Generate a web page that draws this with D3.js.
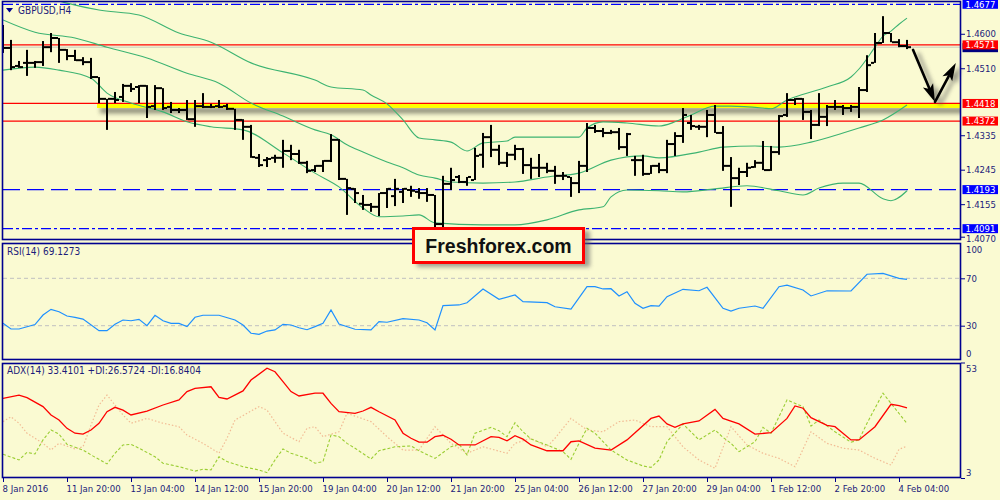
<!DOCTYPE html>
<html><head><meta charset="utf-8">
<script src="https://cdn.jsdelivr.net/npm/d3@7/dist/d3.min.js"></script>
<style>
html,body{margin:0;padding:0;background:#fafad2;}
svg{display:block;}
</style></head><body>
<svg id="chart" width="1000" height="500"></svg>
<script>
// ---------------- DATA ----------------
const symbolTitle = "GBPUSD,H4";
const rsiTitle = "RSI(14) 69.1273";
const adxTitle = "ADX(14) 33.4101 +DI:26.5724 -DI:16.8404";
const brandText = "Freshforex.com";

const dateTickBars = [0,8,16,24,32,40,48,56,64,72,80,88,96,104,112];
const dateLabels = ["8 Jan 2016","11 Jan 20:00","13 Jan 04:00","14 Jan 12:00","15 Jan 20:00","19 Jan 04:00","20 Jan 12:00","21 Jan 20:00","25 Jan 04:00","26 Jan 12:00","27 Jan 20:00","29 Jan 04:00","1 Feb 12:00","2 Feb 20:00","4 Feb 04:00"];

const barOpen = [1.4597,1.4563,1.4516,1.4524,1.4524,1.4526,1.4565,1.4589,1.4558,1.4542,
 1.4531,1.4526,1.4487,1.4430,1.4430,1.4435,1.4464,1.4461,1.4464,1.4411,
 1.4458,1.4409,1.4401,1.4401,1.4377,1.4411,1.4409,1.4411,1.4411,1.4404,
 1.4375,1.4357,1.4276,1.4270,1.4276,1.4276,1.4294,1.4286,1.4263,1.4244,
 1.4255,1.4268,1.4323,1.4221,1.4195,1.4156,1.4153,1.4148,1.4184,1.4176,
 1.4187,1.4192,1.4187,1.4184,1.4179,1.4103,1.4208,1.4226,1.4213,1.4218,
 1.4284,1.4330,1.4297,1.4263,1.4284,1.4299,1.4257,1.4250,1.4250,1.4242,
 1.4229,1.4226,1.4210,1.4255,1.4354,1.4346,1.4341,1.4343,1.4304,1.4270,
 1.4270,1.4234,1.4255,1.4244,1.4312,1.4333,1.4367,1.4357,1.4357,1.4388,
 1.4341,1.4255,1.4223,1.4239,1.4252,1.4263,1.4244,1.4291,1.4388,1.4427,
 1.4430,1.4396,1.4362,1.4383,1.4409,1.4409,1.4406,1.4409,1.4453,1.4524,
 1.4576,1.4602,1.4578,1.4568];
const barHigh = [1.4623,1.4584,1.4529,1.4558,1.4529,1.4581,1.4602,1.4589,1.4560,1.4558,
 1.4539,1.4537,1.4487,1.4430,1.4448,1.4469,1.4471,1.4466,1.4466,1.4466,
 1.4458,1.4422,1.4406,1.4427,1.4427,1.4445,1.4417,1.4427,1.4417,1.4404,
 1.4377,1.4362,1.4286,1.4278,1.4284,1.4323,1.4310,1.4297,1.4268,1.4257,
 1.4270,1.4338,1.4325,1.4221,1.4197,1.4179,1.4158,1.4184,1.4197,1.4221,
 1.4197,1.4203,1.4197,1.4197,1.4179,1.4229,1.4250,1.4231,1.4226,1.4302,
 1.4341,1.4362,1.4310,1.4291,1.4310,1.4302,1.4276,1.4286,1.4263,1.4255,
 1.4239,1.4226,1.4268,1.4367,1.4362,1.4354,1.4349,1.4354,1.4341,1.4281,
 1.4284,1.4257,1.4263,1.4323,1.4343,1.4406,1.4388,1.4362,1.4401,1.4414,
 1.4359,1.4278,1.4250,1.4263,1.4270,1.4320,1.4307,1.4388,1.4445,1.4432,
 1.4432,1.4401,1.4445,1.4414,1.4427,1.4414,1.4414,1.4461,1.4544,1.4602,
 1.4646,1.4602,1.4586,1.4584];
const barLow = [1.4550,1.4505,1.4511,1.4490,1.4511,1.4516,1.4552,1.4524,1.4531,1.4529,
 1.4518,1.4482,1.4419,1.4349,1.4419,1.4422,1.4448,1.4419,1.4380,1.4401,
 1.4401,1.4393,1.4393,1.4375,1.4357,1.4406,1.4406,1.4406,1.4401,1.4349,
 1.4323,1.4276,1.4252,1.4252,1.4263,1.4250,1.4270,1.4260,1.4236,1.4239,
 1.4239,1.4265,1.4218,1.4127,1.4158,1.4140,1.4135,1.4124,1.4145,1.4150,
 1.4158,1.4174,1.4169,1.4161,1.4095,1.4095,1.4192,1.4210,1.4203,1.4218,
 1.4250,1.4278,1.4257,1.4252,1.4270,1.4234,1.4221,1.4226,1.4236,1.4208,
 1.4218,1.4174,1.4184,1.4239,1.4341,1.4330,1.4338,1.4297,1.4281,1.4229,
 1.4229,1.4234,1.4236,1.4236,1.4281,1.4315,1.4349,1.4349,1.4330,1.4341,
 1.4242,1.4148,1.4205,1.4226,1.4250,1.4244,1.4242,1.4284,1.4383,1.4414,
 1.4375,1.4325,1.4359,1.4359,1.4401,1.4388,1.4396,1.4380,1.4448,1.4524,
 1.4576,1.4578,1.4565,1.4560];
const barClose = [1.4563,1.4513,1.4513,1.4524,1.4526,1.4565,1.4589,1.4558,1.4542,1.4531,
 1.4526,1.4487,1.4430,1.4430,1.4427,1.4464,1.4456,1.4464,1.4409,1.4458,
 1.4406,1.4401,1.4401,1.4377,1.4411,1.4409,1.4409,1.4409,1.4404,1.4375,
 1.4357,1.4278,1.4257,1.4273,1.4276,1.4294,1.4286,1.4263,1.4242,1.4255,
 1.4268,1.4323,1.4221,1.4197,1.4184,1.4153,1.4148,1.4184,1.4195,1.4195,
 1.4195,1.4190,1.4184,1.4179,1.4103,1.4208,1.4218,1.4213,1.4226,1.4281,
 1.4330,1.4297,1.4263,1.4284,1.4299,1.4257,1.4250,1.4250,1.4242,1.4229,
 1.4229,1.4210,1.4255,1.4354,1.4346,1.4341,1.4343,1.4304,1.4338,1.4270,
 1.4234,1.4255,1.4244,1.4312,1.4333,1.4388,1.4359,1.4357,1.4388,1.4341,
 1.4255,1.4223,1.4239,1.4250,1.4263,1.4244,1.4291,1.4385,1.4427,1.4430,
 1.4396,1.4362,1.4383,1.4409,1.4409,1.4406,1.4409,1.4453,1.4518,1.4576,
 1.4602,1.4578,1.4568,1.4565];

// Bollinger bands, read at [bar, price]
const bbUpper = [[0,1.4735],[8,1.4680],[12,1.4662],[17,1.4649],[22,1.4602],[26,1.4578],[31,1.4524],[39,1.4479],[41,1.4461],[45,1.4453],[46,1.4440],[48,1.4417],[50,1.4375],[52,1.4328],[54,1.4323],[56,1.4317],[58,1.4294],[60,1.4315],[63,1.4320],[64,1.4330],[72,1.4330],[73,1.4354],[75,1.4370],[78,1.4367],[82,1.4359],[84,1.4370],[86,1.4388],[89,1.4411],[91,1.4411],[95,1.4406],[96,1.4404],[98,1.4427],[99,1.4435],[103,1.4461],[106,1.4487],[107,1.4508],[109,1.4565],[110,1.4594],[111,1.4607],[112,1.4625],[113,1.4641]];
const bbMiddle = [[0,1.4636],[4,1.4604],[9,1.4589],[13,1.4565],[18,1.4537],[23,1.4497],[27,1.4471],[31,1.4419],[35,1.4385],[39,1.4349],[41,1.4336],[43,1.4310],[45,1.4291],[48,1.4265],[50,1.4250],[52,1.4231],[54,1.4223],[56,1.4213],[60,1.4210],[64,1.4213],[68,1.4226],[72,1.4236],[76,1.4270],[80,1.4281],[82,1.4276],[87,1.4291],[90,1.4304],[94,1.4307],[97,1.4304],[101,1.4317],[105,1.4341],[107,1.4354],[110,1.4375],[113,1.4414]];
const bbLower = [[0,1.4505],[4,1.4513],[7,1.4505],[11,1.4484],[13,1.4445],[16,1.4419],[20,1.4396],[23,1.4370],[26,1.4357],[30,1.4349],[35,1.4289],[39,1.4236],[42,1.4200],[45,1.4145],[47,1.4122],[50,1.4124],[52,1.4127],[54,1.4106],[60,1.4101],[64,1.4101],[68,1.4114],[72,1.4140],[75,1.4148],[76,1.4174],[78,1.4192],[82,1.4190],[85,1.4187],[89,1.4195],[93,1.4203],[97,1.4190],[100,1.4179],[102,1.4197],[105,1.4210],[107,1.4210],[110,1.4169],[111,1.4164],[113,1.4190]];

// RSI(14), read at [bar, value]
const rsiPoints = [[0,32.0],[1,27.2],[2,27.2],[4,31.0],[5,39.0],[6,43.8],[7,41.8],[8,38.2],[9,37.0],[10,35.6],[12,25.8],[13,25.8],[14,31.2],[15,34.8],[16,34.2],[17,35.4],[18,30.0],[19,38.8],[20,34.2],[21,32.0],[22,32.0],[23,29.2],[24,37.1],[25,38.8],[27,38.8],[29,34.8],[30,30.6],[31,23.6],[32,22.7],[33,25.5],[34,26.4],[35,31.2],[36,30.6],[37,28.3],[38,26.6],[39,29.2],[40,32.0],[41,43.2],[42,31.4],[44,27.0],[46,26.4],[47,33.4],[48,32.9],[50,35.9],[52,34.8],[53,32.5],[54,26.4],[55,46.9],[57,47.5],[58,49.4],[60,61.0],[62,52.3],[64,55.9],[65,50.3],[68,49.4],[69,46.0],[71,44.1],[73,62.9],[74,62.9],[75,61.0],[76,61.2],[77,55.1],[78,58.7],[79,48.9],[80,44.7],[81,46.9],[82,46.6],[83,54.5],[85,60.7],[87,59.5],[88,62.4],[90,44.7],[91,42.4],[92,44.7],[94,46.6],[95,44.7],[97,62.9],[98,64.3],[100,60.1],[101,55.1],[103,59.5],[106,59.3],[108,73.4],[110,74.2],[112,70.0],[113,69.1]];
const rsiLevels = [70,30];
const rsiTicks = [100,70,30,0];

// ADX(14), read at [bar, value]
const adxPoints = [[0,37.5],[2,38.9],[3,37.8],[5,33.9],[6,30.3],[7,28.1],[8,24.5],[9,22.4],[10,22.0],[11,23.8],[12,26.7],[13,31.7],[14,33.6],[15,32.4],[16,30.3],[18,32.0],[20,34.6],[22,36.8],[23,40.4],[24,41.8],[26,42.5],[27,37.9],[28,37.2],[30,40.7],[31,45.4],[33,50.5],[34,49.0],[35,44.7],[36,40.4],[37,38.5],[39,39.7],[40,39.7],[41,35.3],[42,31.7],[44,31.0],[45,32.0],[46,33.6],[47,31.7],[49,28.1],[50,22.4],[51,20.2],[52,18.5],[53,18.5],[54,20.9],[55,21.5],[56,19.8],[57,17.3],[59,17.3],[61,20.9],[62,20.6],[63,19.1],[64,21.3],[65,19.8],[66,17.3],[68,14.8],[70,14.8],[71,18.7],[72,19.1],[74,15.9],[76,15.1],[78,19.5],[81,28.8],[82,29.8],[83,26.4],[84,24.9],[85,26.4],[87,27.7],[89,32.7],[90,28.8],[92,26.4],[94,22.0],[96,22.6],[98,28.8],[99,34.2],[100,33.2],[101,29.1],[103,25.8],[104,25.2],[106,19.5],[107,19.5],[109,25.2],[111,34.9],[112,34.3],[113,33.4]];
const plusDiPoints = [[0,13.3],[2,10.8],[3,14.1],[4,13.4],[5,19.5],[6,23.8],[7,22.0],[8,17.6],[10,15.1],[11,13.0],[13,9.1],[14,13.7],[15,17.3],[16,17.6],[17,15.9],[19,12.2],[20,9.4],[22,7.9],[24,6.0],[25,6.8],[26,6.5],[27,12.2],[28,10.1],[30,7.9],[32,6.5],[33,5.3],[34,10.8],[35,15.6],[36,13.7],[38,11.5],[39,9.4],[40,10.1],[41,21.6],[42,20.9],[43,18.0],[44,15.9],[46,11.2],[47,14.8],[49,16.5],[51,16.9],[52,14.8],[54,11.5],[56,16.5],[57,17.7],[58,13.0],[59,22.4],[61,24.9],[62,23.5],[63,20.9],[64,26.9],[65,23.0],[66,19.9],[68,17.3],[70,14.4],[71,11.1],[72,18.0],[73,24.5],[74,22.4],[76,15.1],[78,10.8],[80,8.2],[81,7.6],[82,10.8],[83,18.7],[85,26.4],[87,19.5],[89,23.8],[90,20.6],[91,18.0],[92,14.4],[94,18.7],[95,24.9],[96,22.4],[98,36.8],[100,33.9],[101,25.5],[102,28.1],[104,23.0],[106,18.5],[107,19.5],[108,26.7],[110,39.7],[111,35.3],[113,26.6]];
const minusDiPoints = [[0,27.4],[1,29.5],[2,26.7],[3,22.4],[5,18.0],[6,15.1],[7,18.0],[9,15.6],[10,16.5],[11,25.9],[12,34.6],[13,38.9],[14,34.6],[15,30.3],[16,26.7],[18,28.8],[20,26.7],[22,25.2],[23,21.6],[25,18.0],[26,15.9],[27,13.7],[28,20.2],[29,28.1],[32,33.9],[33,32.4],[34,27.4],[35,22.4],[37,18.7],[38,24.5],[39,25.2],[40,20.9],[42,23.0],[43,31.0],[46,27.4],[48,20.9],[50,15.1],[52,15.1],[54,25.2],[56,18.0],[58,13.7],[60,16.5],[63,13.7],[64,18.0],[66,20.2],[68,16.5],[69,20.2],[71,28.8],[73,23.8],[75,23.0],[77,27.4],[79,28.1],[81,25.2],[83,25.2],[85,16.5],[87,10.8],[89,7.2],[91,25.2],[93,17.3],[95,13.7],[97,11.5],[99,7.9],[101,23.0],[103,18.0],[105,15.9],[107,15.1],[109,11.5],[111,8.6],[112,15.4],[113,16.8]];
const adxTicks = [53,3];

// price axis and horizontal levels
const priceTicks = [1.4600,1.4510,1.4335,1.4245,1.4155,1.4070];
const levelPrices = [1.4677,1.4571,1.4418,1.4372,1.4193,1.4091];
const levelKinds  = ["dashdot","solid","zone","solid","dash","dashdot"];
const zoneStartBar = 11.75;
const bidPrice = 1.4565;
// forecast arrows: [bar, price]
const arrowPoints = [[113.75,1.4558],[116.5,1.4422],[119.1,1.4524]];

// ---------------- DRAW ----------------
const FONT = '"DejaVu Sans Condensed","DejaVu Sans",sans-serif';
const NAVY = "#000090", TXT = "#1c1c7a";
const svg = d3.select("#chart");
const defs = svg.append("defs");
svg.append("rect").attr("width",1000).attr("height",500).attr("fill","#fafad2");

const P = {l:3, r:960, mt:2, mb:239, rt:244, rb:359, at:364, ab:477};
const x  = d3.scaleLinear().domain([0,113]).range([3,907]);
const y  = d3.scaleLinear().domain([1.4070,1.4677]).range([236.7,4.3]);
const yr = d3.scaleLinear().domain([0,100]).range([361.25,242.75]);
const ya = d3.scaleLinear().domain([3,53]).range([478,362.5]);

function clip(id,t,b){defs.append("clipPath").attr("id",id).append("rect").attr("x",P.l).attr("y",t).attr("width",P.r-P.l).attr("height",b-t);}
clip("cm",P.mt,P.mb); clip("cr",P.rt,P.rb); clip("ca",P.at,P.ab);
const blur = defs.append("filter").attr("id","blur").attr("x","-30%").attr("y","-100%").attr("width","160%").attr("height","300%");
blur.append("feGaussianBlur").attr("stdDeviation",2.2);

// ---- main panel
const gm = svg.append("g").attr("clip-path","url(#cm)");
gm.append("line").attr("x1",P.l).attr("x2",P.r).attr("y1",y(bidPrice)).attr("y2",y(bidPrice)).attr("stroke","#c8c8c0").attr("stroke-width",1);
levelPrices.forEach((p,i)=>{
  const k = levelKinds[i], yy = y(p);
  if(k==="zone"){
    gm.append("rect").attr("x",x(zoneStartBar)+3).attr("y",yy+4).attr("width",P.r-x(zoneStartBar)+10).attr("height",6)
      .attr("fill","#707060").attr("opacity",0.75).attr("filter","url(#blur)");
    gm.append("rect").attr("x",x(zoneStartBar)).attr("y",yy-0.5).attr("width",P.r-x(zoneStartBar)).attr("height",5)
      .attr("fill","#ffff00");
  }
  const ln = gm.append("line").attr("x1",P.l).attr("x2",P.r).attr("y1",yy).attr("y2",yy);
  if(k==="solid"||k==="zone") ln.attr("stroke","#ff0000").attr("stroke-width",1.3);
  else if(k==="dash") ln.attr("stroke","#0000ff").attr("stroke-width",1.3).attr("stroke-dasharray","17,7");
  else ln.attr("stroke","#0000ff").attr("stroke-width",1.3).attr("stroke-dasharray","10,3,3,3");
});
const bbLine = d3.line().x(d=>x(d[0])).y(d=>y(d[1])).curve(d3.curveMonotoneX);
[bbUpper,bbMiddle,bbLower].forEach(b=>gm.append("path").attr("d",bbLine(b)).attr("fill","none").attr("stroke","#3cb371").attr("stroke-width",1.1));
const bars = gm.append("g").attr("fill","#000");
barOpen.forEach((o,i)=>{
  const cx = x(i);
  bars.append("rect").attr("x",cx-1).attr("width",2).attr("y",y(barHigh[i])).attr("height",Math.max(1,y(barLow[i])-y(barHigh[i])));
  bars.append("rect").attr("x",cx-4).attr("width",3).attr("y",y(o)-1).attr("height",2);
  bars.append("rect").attr("x",cx+1).attr("width",3).attr("y",y(barClose[i])-1).attr("height",2);
});
svg.append("path").attr("d","M6,8 L13,8 L9.5,12.5 Z").attr("fill",NAVY);
svg.append("text").attr("x",18).attr("y",14).attr("font-family",FONT).attr("font-size",10).attr("fill",TXT).text(symbolTitle);

function arrowGeom(a,b){
  const x0=x(a[0]),y0=y(a[1]),x1=x(b[0]),y1=y(b[1]);
  const dx=x1-x0,dy=y1-y0,L=Math.hypot(dx,dy),ux=dx/L,uy=dy/L,hl=18,hw=5.5;
  const bx=x1-ux*hl,by=y1-uy*hl;
  return {line:`M${x0},${y0}L${bx+ux*3},${by+uy*3}`, head:`M${x1},${y1}L${bx-uy*hw},${by+ux*hw}L${bx+ux*4},${by+uy*4}L${bx+uy*hw},${by-ux*hw}Z`};
}
const ag = svg.append("g");
const segs = [arrowGeom(arrowPoints[0],arrowPoints[1]),arrowGeom(arrowPoints[1],arrowPoints[2])];
const sh = ag.append("g").attr("transform","translate(5,3)").attr("filter","url(#blur)").attr("opacity",0.6);
segs.forEach(s=>{sh.append("path").attr("d",s.line).attr("stroke","#555").attr("stroke-width",3).attr("fill","none");sh.append("path").attr("d",s.head).attr("fill","#555");});
segs.forEach(s=>{ag.append("path").attr("d",s.line).attr("stroke","#000").attr("stroke-width",2.6).attr("fill","none").attr("stroke-linecap","round");ag.append("path").attr("d",s.head).attr("fill","#000");});

// ---- RSI panel
const gr = svg.append("g").attr("clip-path","url(#cr)");
rsiLevels.forEach(v=>gr.append("line").attr("x1",P.l).attr("x2",P.r).attr("y1",yr(v)).attr("y2",yr(v)).attr("stroke","#c0c0c0").attr("stroke-dasharray","4,3"));
gr.append("path").attr("d",d3.line().x(d=>x(d[0])).y(d=>yr(d[1]))(rsiPoints)).attr("fill","none").attr("stroke","#1e90ff").attr("stroke-width",1.2);
svg.append("text").attr("x",7).attr("y",255).attr("font-family",FONT).attr("font-size",10).attr("fill",TXT).text(rsiTitle);

// ---- ADX panel
const ga = svg.append("g").attr("clip-path","url(#ca)");
const la = d3.line().x(d=>x(d[0])).y(d=>ya(d[1]));
ga.append("path").attr("d",la(minusDiPoints)).attr("fill","none").attr("stroke","#f2bb94").attr("stroke-width",1.2).attr("stroke-dasharray","1.5,2");
ga.append("path").attr("d",la(plusDiPoints)).attr("fill","none").attr("stroke","#9acd32").attr("stroke-width",1.1).attr("stroke-dasharray","3,2");
ga.append("path").attr("d",la(adxPoints)).attr("fill","none").attr("stroke","#ff0000").attr("stroke-width",1.3);
svg.append("text").attr("x",7).attr("y",374).attr("font-family",FONT).attr("font-size",10).attr("fill",TXT).text(adxTitle);

// ---- axes
function styleAxis(g){g.select(".domain").remove();g.attr("font-family",FONT).attr("font-size",9.5).attr("color",TXT);g.selectAll("line").attr("stroke",NAVY);}
const gx = svg.append("g").attr("transform",`translate(0,${P.ab+1})`)
  .call(d3.axisBottom(x).tickValues(dateTickBars).tickFormat((d,i)=>dateLabels[i]).tickSize(4).tickPadding(3));
styleAxis(gx); gx.selectAll("text").attr("text-anchor","start").attr("dx",-1);

const gy = svg.append("g").attr("transform",`translate(${P.r+1},0)`)
  .call(d3.axisRight(y).tickValues(priceTicks).tickFormat(d3.format(".4f")).tickSize(4).tickPadding(1));
styleAxis(gy);
gy.selectAll(".tick").filter(d=>d===1.4070).select("text").attr("dy","0.5em");
const gyr = svg.append("g").attr("transform",`translate(${P.r+1},0)`)
  .call(d3.axisRight(yr).tickValues(rsiTicks).tickFormat(d3.format("d")).tickSize(4).tickPadding(1));
styleAxis(gyr);
gyr.selectAll(".tick").filter(d=>d===100).select("text").attr("dy","1.0em");
gyr.selectAll(".tick").filter(d=>d===0).select("text").attr("dy","-0.45em");
gyr.selectAll(".tick").filter(d=>d===100||d===0).select("line").remove();
const gya = svg.append("g").attr("transform",`translate(${P.r+1},0)`)
  .call(d3.axisRight(ya).tickValues(adxTicks).tickFormat(d3.format("d")).tickSize(4).tickPadding(1));
styleAxis(gya);
gya.selectAll(".tick").filter(d=>d===53).select("text").attr("dy","0.95em");
gya.selectAll(".tick").filter(d=>d===3).select("text").attr("dy","-0.25em");

// price level labels (bid marker sits behind the red 1.4571 tag, its text hidden as in the reference)
svg.append("rect").attr("x",962.5).attr("y",y(bidPrice)-4).attr("width",35.5).attr("height",9).attr("fill","#000080");
function priceBox(p,fill){
  const yy=y(p);
  svg.append("rect").attr("x",962.5).attr("y",yy-4.5).attr("width",35.5).attr("height",9).attr("fill",fill);
  svg.append("text").attr("x",965.5).attr("y",yy).attr("dy","0.34em").attr("font-family",FONT).attr("font-size",9.5).attr("fill","#fff").text(d3.format(".4f")(p));
}
levelPrices.forEach((p,i)=>priceBox(p,levelKinds[i]==="solid"||levelKinds[i]==="zone"?"#ff0000":"#0000ff"));

// panel borders
[[P.mt,P.mb],[P.rt,P.rb],[P.at,P.ab]].forEach(([t,b])=>svg.append("rect").attr("x",P.l-0.5).attr("y",t-0.5).attr("width",P.r-P.l+1).attr("height",b-t+1).attr("fill","none").attr("stroke",NAVY).attr("stroke-width",1.6));

// brand box
const bb = svg.append("g");
bb.append("rect").attr("x",417).attr("y",231).attr("width",173).attr("height",36).attr("fill","#666").attr("opacity",0.6).attr("filter","url(#blur)");
bb.append("rect").attr("x",413.5).attr("y",228.5).attr("width",170).attr("height",34).attr("fill","#fafad2").attr("stroke","#ff0000").attr("stroke-width",3);
bb.append("text").attr("x",498.5).attr("y",253).attr("text-anchor","middle").attr("font-family","'Liberation Sans',Arial,sans-serif").attr("font-weight","bold").attr("font-size",19.5).attr("fill","#111").text(brandText);
</script></body></html>
